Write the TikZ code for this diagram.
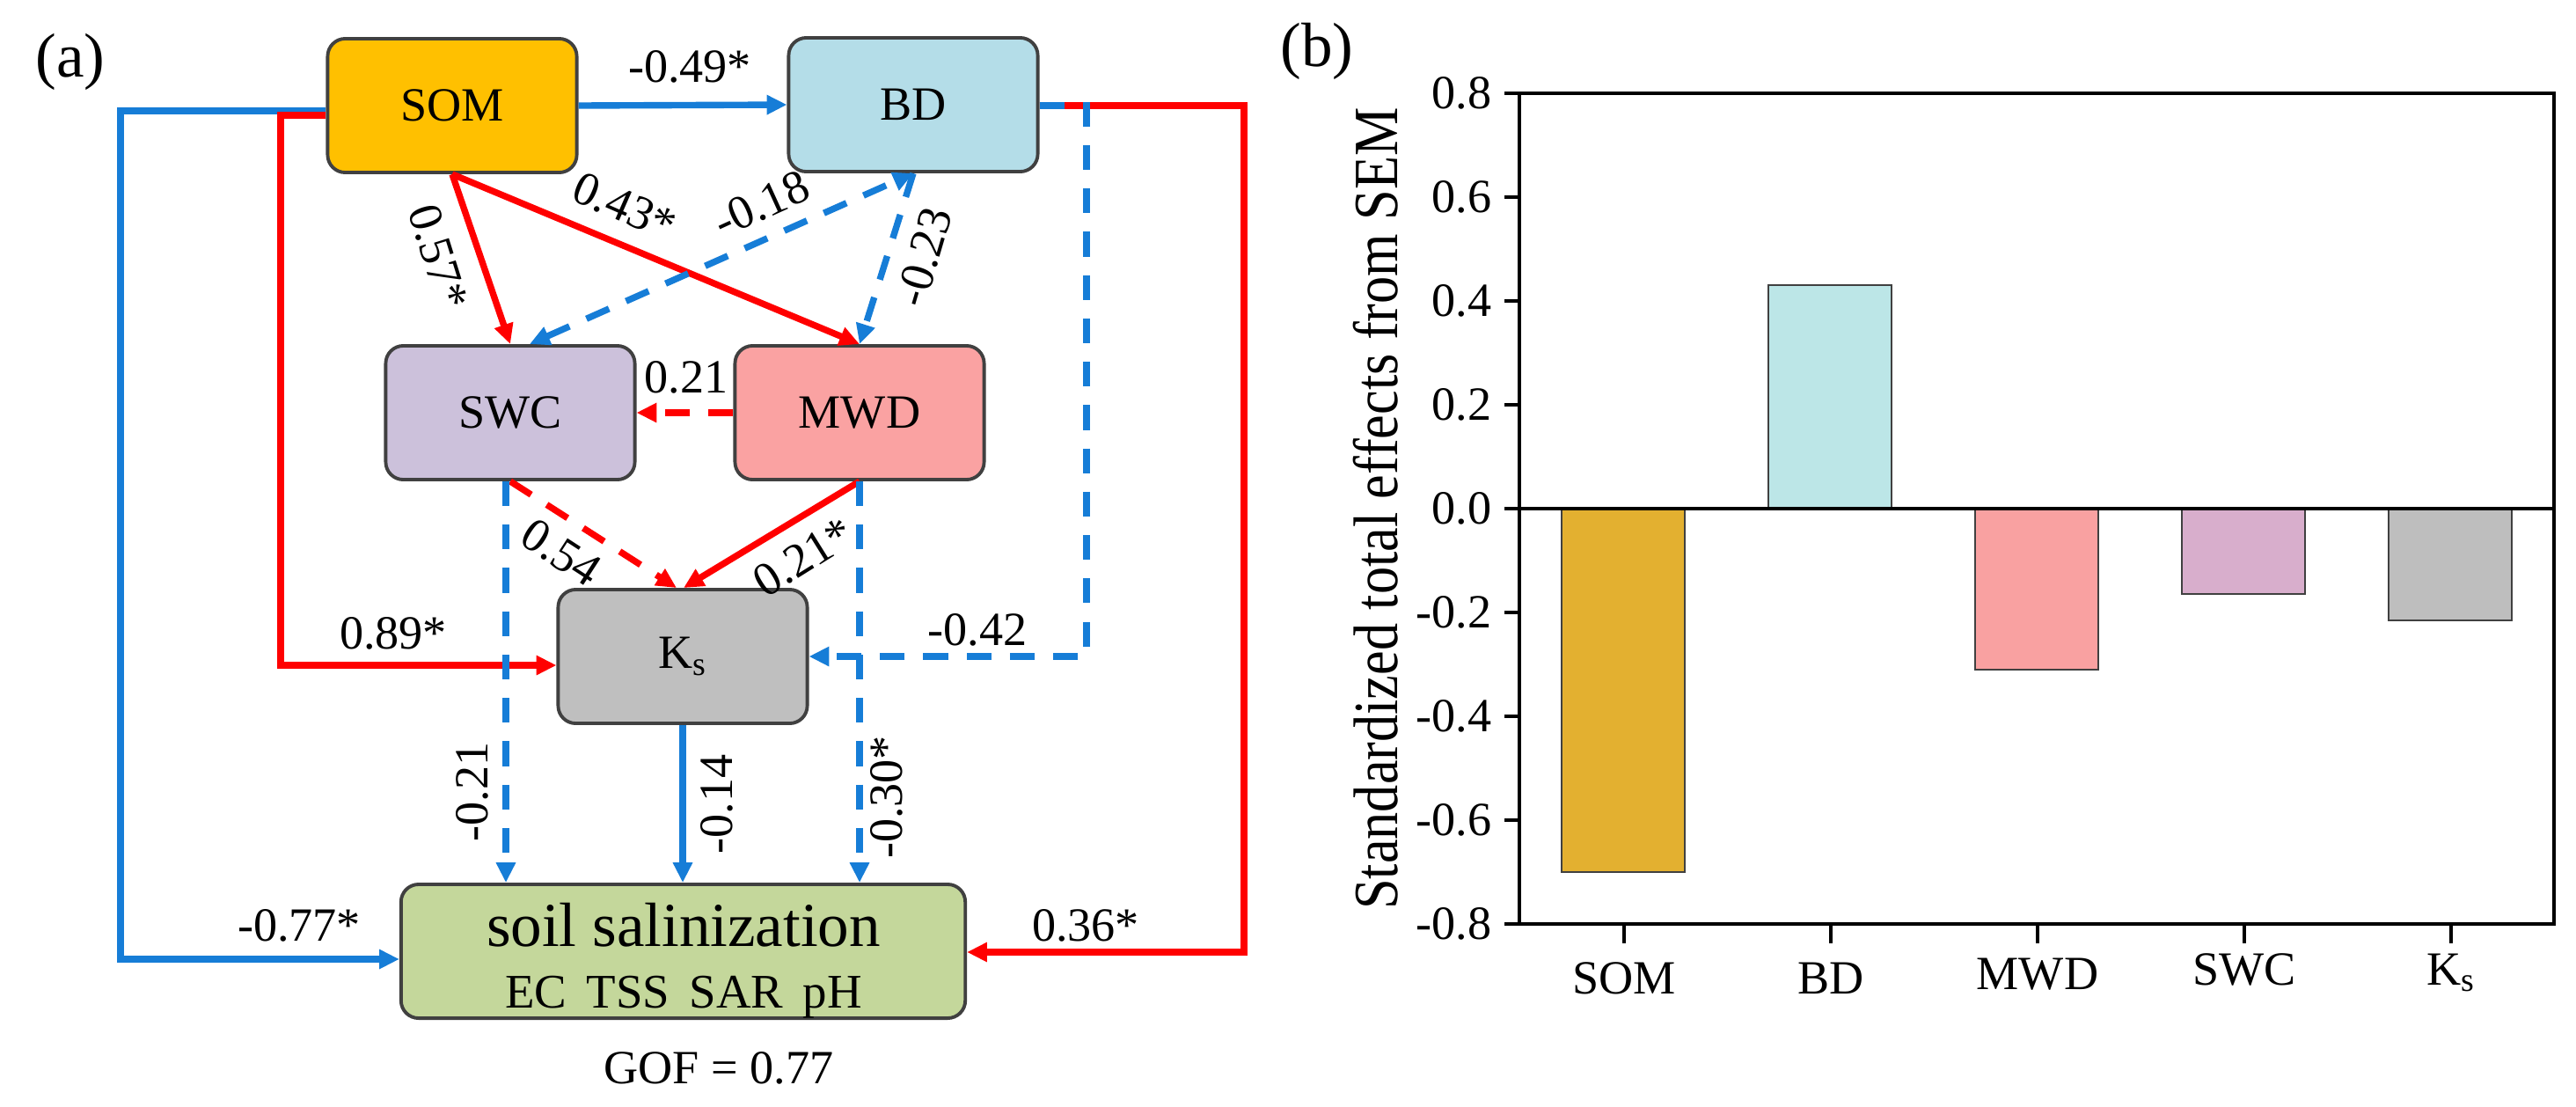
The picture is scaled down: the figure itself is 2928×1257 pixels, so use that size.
\documentclass[tikz,border=0pt]{standalone}
\usepackage{fontspec}
\setmainfont{Liberation Serif}
\usetikzlibrary{arrows.meta}
\definecolor{cblue}{RGB}{22,125,215}
\definecolor{cred}{RGB}{255,0,0}
\definecolor{csom}{RGB}{255,192,0}
\definecolor{cbd}{RGB}{180,221,232}
\definecolor{cswc}{RGB}{204,193,219}
\definecolor{cmwd}{RGB}{250,162,162}
\definecolor{cks}{RGB}{191,191,191}
\definecolor{csoil}{RGB}{196,215,155}
\definecolor{cedge}{RGB}{64,64,64}
\definecolor{bsom}{RGB}{227,176,48}
\definecolor{bbd}{RGB}{188,230,231}
\definecolor{bmwd}{RGB}{249,161,161}
\definecolor{bswc}{RGB}{216,174,204}
\definecolor{bks}{RGB}{190,190,190}
\begin{document}
\begin{tikzpicture}[x=0.01cm,y=-0.01cm,line join=miter,
  box/.style={draw=cedge,line width=1.1pt,rounded corners=0.2cm,minimum width=2.83cm,minimum height=1.52cm,inner sep=0pt,font=\fontsize{15.4}{18}\selectfont},
  lab/.style={inner sep=0pt,font=\fontsize{15.4}{18}\selectfont},
  arrtip/.style={-{Triangle[length=6.5pt,width=6pt]}},
  posline/.style={draw=cred,line width=2.1pt,arrtip},
  negline/.style={draw=cblue,line width=2.1pt,arrtip},
  dsh/.style={dash pattern=on 8pt off 6pt},
  barbox/.style={draw=black!75,line width=0.6pt}]
\useasboundingbox (0,0) rectangle (2928,1257);

% ---------- panel (a) ----------
\node[inner sep=0pt,font=\fontsize{20.2}{24}\selectfont] (pa) at (80,70) {(a)};

\node[box,fill=csom] (SOM) at (514,120) {SOM};
\node[box,fill=cbd] (BD) at (1038,119) {BD};
\node[box,fill=cswc] (SWC) at (580,469) {SWC};
\node[box,fill=cmwd] (MWD) at (977,469) {MWD};
\node[box,fill=cks] (KS) at (776,746) {K\textsubscript{s}};
\node[box,fill=csoil,minimum width=6.41cm] (SOIL) at (776.5,1081) {};
\node[inner sep=0pt,anchor=base,font=\fontsize{20.2}{24}\selectfont] (soilt) at (777,1075) {soil salinization};
\node[inner sep=0pt,anchor=base,font=\fontsize{15.6}{18}\selectfont] (soilv) at (777,1145) {EC\hspace{0.41em}TSS\hspace{0.41em}SAR\hspace{0.41em}pH};
\node[lab] (gof) at (817,1214) {GOF = 0.77};

% outer connectors
\coordinate (b1) at (137,126); \coordinate (b2) at (137,1090);
\draw[negline] (SOM.west |- b1) -- (b1) -- (b2) -- (SOIL.west |- b2);
\coordinate (r1) at (319,131); \coordinate (r2) at (319,756);
\draw[posline] (SOM.west |- r1) -- (r1) -- (r2) -- (KS.west |- r2);
\coordinate (r3) at (1414,120); \coordinate (r4) at (1414,1082);
\draw[posline] (BD.east |- r3) -- (r3) -- (r4) -- (SOIL.east |- r4);
\coordinate (b3) at (1235,120);
\draw[negline,dsh] (BD.east |- b3) -- (b3) -- (b3 |- KS.east) -- (KS.east);

% inner connectors
\draw[negline] (SOM.east) -- (BD.west);
\draw[posline] (SOM.south) -- (SWC.north);
\draw[posline] (SOM.south) -- (MWD.north);
\draw[negline,dsh,{Triangle[length=6.5pt,width=6pt]}-{Triangle[length=6.5pt,width=6pt]}] ([xshift=0.22cm]SWC.north) -- (BD.south);
\draw[negline,dsh] (BD.south) -- (MWD.north);
\draw[posline,dsh] (MWD.west) -- (SWC.east);
\draw[posline,dsh] (SWC.south) -- ([xshift=-0.07cm]KS.north);
\draw[posline] (MWD.south) -- ([xshift=0.01cm]KS.north);
\draw[negline,dsh] ([xshift=-0.05cm]SWC.south) -- ([xshift=-0.05cm]SWC.south |- SOIL.north);
\draw[negline,dsh] (MWD.south) -- (MWD.south |- SOIL.north);
\draw[negline] (KS.south) -- (KS.south |- SOIL.north);

% path labels
\node[lab] (l49) at (784,76) {-0.49*};
\node[lab,rotate=-72.7] (l57) at (498,292) {0.57*};
\node[lab,rotate=-23.7] (l43) at (710,235) {0.43*};
\node[lab,rotate=24.5] (l18) at (865,232) {-0.18};
\node[lab,rotate=73.6] (l23) at (1050,292) {-0.23};
\node[lab] (l21a) at (780,429) {0.21};
\node[lab,rotate=-33] (l54) at (638,628) {0.54};
\node[lab,rotate=32] (l21b) at (913,633) {0.21*};
\node[lab] (l89) at (447,720) {0.89*};
\node[lab] (l42) at (1111,716) {-0.42};
\node[lab,rotate=90] (l21c) at (537,900) {-0.21};
\node[lab,rotate=90] (l14) at (815,914) {-0.14};
\node[lab,rotate=90] (l30) at (1008,906) {-0.30*};
\node[lab] (l77) at (340,1052) {-0.77*};
\node[lab] (l36) at (1234,1052) {0.36*};

% ---------- panel (b) ----------
\node[inner sep=0pt,font=\fontsize{20.2}{24}\selectfont] (pb) at (1497,58) {(b)};

\draw[barbox,fill=bsom] (1775,578) rectangle (1915,991);
\draw[barbox,fill=bbd] (2010,324) rectangle (2150,578);
\draw[barbox,fill=bmwd] (2245,578) rectangle (2385,761);
\draw[barbox,fill=bswc] (2480,578) rectangle (2620,675);
\draw[barbox,fill=bks] (2715,578) rectangle (2855,705);

\draw[line width=1.3pt] (1727,106) rectangle (2903,1050);
\draw[line width=1.3pt] (1727,578) -- (2903,578);

\foreach \v/\t [count=\i] in {0.8/0.8,0.6/0.6,0.4/0.4,0.2/0.2,0/0.0,-0.2/-0.2,-0.4/-0.4,-0.6/-0.6,-0.8/-0.8}{
  \draw[line width=1.3pt] (1710,{578-590*\v}) -- (1727,{578-590*\v});
  \node[lab,anchor=east] (yt\i) at (1696,{578-590*\v}) {\t};
}
\foreach \x/\t/\yb [count=\i] in {1846/SOM/1129,2081/BD/1129,2316/MWD/1124,2551/SWC/1119,2786/K\textsubscript{s}/1119}{
  \draw[line width=0.9pt] (\x,1050) -- (\x,1072);
  \node[lab,anchor=base] (xt\i) at (\x,\yb) {\t};
}
\node[inner sep=0pt,rotate=90,yscale=1.15,font=\fontsize{17.7}{20}\selectfont] (ylab) at (1564,578) {Standardized total effects from SEM};
\end{tikzpicture}
\end{document}
